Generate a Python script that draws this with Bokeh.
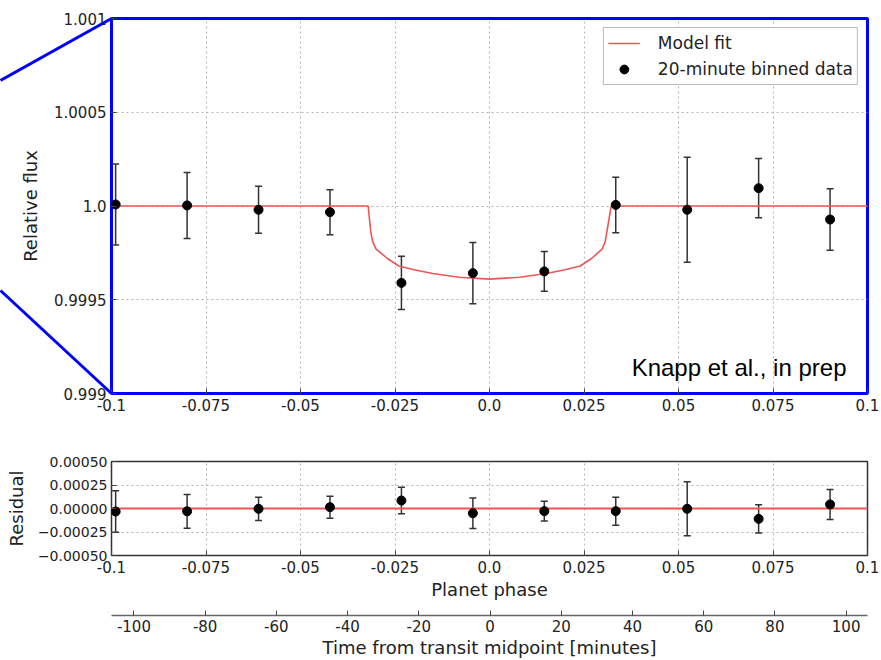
from bokeh.plotting import figure
from bokeh.models import (ColumnDataSource, Whisker, TeeHead, FixedTicker,
                          Range1d, Legend, LegendItem, Label)
from bokeh.layouts import column
from bokeh.embed import file_html
from bokeh.resources import INLINE

# ---------------- data ----------------
phase = [-0.0989, -0.0800, -0.0611, -0.0422, -0.0233, -0.0044, 0.0145, 0.0334, 0.0523, 0.0712, 0.0901]
flux = [1.000008, 1.000003, 0.999980, 0.999967, 0.999590, 0.999642, 0.999651, 1.000006, 0.999980, 1.000095, 0.999928]
flux_err = [0.000216, 0.000176, 0.000125, 0.000120, 0.000142, 0.000163, 0.000106, 0.000148, 0.000280, 0.000158, 0.000164]
resid = [-0.000032, -0.000030, -0.000003, 0.000014, 0.000085, -0.000050, -0.000028, -0.000028, -0.000003, -0.000110, 0.000043]
resid_err = [0.000220, 0.000180, 0.000124, 0.000117, 0.000142, 0.000162, 0.000106, 0.000149, 0.000287, 0.000151, 0.000160]

model_phase = [-0.1, -0.0321, -0.0314, -0.0309, -0.0300, -0.027, -0.024, -0.020, -0.015, -0.008, 0.0,
               0.008, 0.015, 0.020, 0.024, 0.027, 0.0298, 0.0306, 0.0312, 0.0322, 0.1]
model_flux = [1.0, 1.0, 0.99986, 0.99981, 0.99977, 0.99972, 0.99968, 0.99966, 0.99964, 0.99962, 0.99961,
              0.99962, 0.99964, 0.99966, 0.99968, 0.99972, 0.99977, 0.99981, 0.99988, 1.0, 1.0]
resid_model_phase = [-0.1, 0.1]
resid_model = [0.0, 0.0]

phase_ticks = [-0.1, -0.075, -0.05, -0.025, 0.0, 0.025, 0.05, 0.075, 0.1]
phase_tick_labels = ["-0.1", "-0.075", "-0.05", "-0.025", "0.0", "0.025", "0.05", "0.075", "0.1"]
flux_ticks = [0.999, 0.9995, 1.0, 1.0005, 1.001]
flux_tick_labels = ["0.999", "0.9995", "1.0", "1.0005", "1.001"]
resid_ticks = [-0.0005, -0.00025, 0.0, 0.00025, 0.0005]
resid_tick_labels = ["\u22120.00050", "\u22120.00025", "0.00000", "0.00025", "0.00050"]
minute_ticks = [-100, -80, -60, -40, -20, 0, 20, 40, 60, 80, 100]
minute_tick_labels = ["-100", "-80", "-60", "-40", "-20", "0", "20", "40", "60", "80", "100"]

phase_range = (-0.1, 0.1)
flux_range = (0.999, 1.001)
resid_range = (-0.0005, 0.0005)
minute_range = (-106.3, 106.0)

# call-out (zoom) lines: phase / flux where they leave the left edge of the canvas
callout_x = [-0.129365, -0.129365]
callout_y = [1.0006693, 0.9995493]

# ---------------- style ----------------
FONT = "DejaVu Sans"
TICK_PX = "15px"
LABEL_PX = "18px"
TXT = "#222222"
TICKC = "#444444"
GRIDC = "#b4b4b4"
RED = "#ee5555"
BLUE = "#0000ff"
W = 881


def style_axis(ax, ticks, labels, size=TICK_PX):
    ax.ticker = FixedTicker(ticks=ticks)
    ax.major_label_overrides = {t: l for t, l in zip(ticks, labels)}
    ax.major_tick_in = 5
    ax.major_tick_out = 0
    ax.minor_tick_line_color = None
    ax.major_tick_line_color = TICKC
    ax.major_tick_line_width = 1
    ax.axis_line_color = None
    ax.major_label_text_font = FONT
    ax.major_label_text_font_size = size
    ax.major_label_text_color = TXT
    ax.axis_label_text_font = FONT
    ax.axis_label_text_font_size = LABEL_PX
    ax.axis_label_text_font_style = "normal"
    ax.axis_label_text_color = TXT


def style_grid(p):
    for g in (p.xgrid[0], p.ygrid[0]):
        g.grid_line_color = GRIDC
        g.grid_line_dash = "2 3"
        g.grid_line_width = 1


# ---------------- top panel ----------------
p1 = figure(width=W, height=423, x_range=Range1d(*phase_range), y_range=Range1d(*flux_range),
            output_backend="svg", toolbar_location=None,
            min_border_left=111, min_border_right=14, min_border_top=18, min_border_bottom=30)
p1.outline_line_color = BLUE
p1.outline_line_width = 3
p1.outline_line_alpha = 1.0
style_axis(p1.xaxis[0], phase_ticks, phase_tick_labels)
p1.xaxis[0].major_label_standoff = 5
style_axis(p1.yaxis[0], flux_ticks, flux_tick_labels)
p1.yaxis[0].axis_label = "Relative flux"
p1.yaxis[0].major_label_standoff = 5
p1.yaxis[0].axis_label_standoff = 10
style_grid(p1)

src1 = ColumnDataSource(dict(x=phase, y=flux,
                             lo=[f - e for f, e in zip(flux, flux_err)],
                             hi=[f + e for f, e in zip(flux, flux_err)]))
model_r = p1.line(model_phase, model_flux, line_color=RED, line_width=1.6)
p1.add_layout(Whisker(source=src1, base="x", upper="hi", lower="lo", line_color="#333333", line_width=1.5,
                      upper_head=TeeHead(size=7, line_color="#333333", line_width=1.5),
                      lower_head=TeeHead(size=7, line_color="#333333", line_width=1.5)))
dots_r = p1.scatter("x", "y", source=src1, size=9, fill_color="black", line_color="black")
bar_proxy = p1.scatter(x=[], y=[], marker="line", size=9, line_color="#333333", line_width=1.5)

legend = Legend(items=[LegendItem(label="Model fit", renderers=[model_r]),
                       LegendItem(label="20-minute binned data", renderers=[bar_proxy, dots_r])],
                location="top_right", margin=9, padding=4, spacing=4,
                glyph_width=32, glyph_height=22, label_height=22, label_standoff=18,
                label_text_font=FONT, label_text_font_size="17px", label_text_color=TXT,
                border_line_color="#777777", border_line_width=1.5, background_fill_color="white",
                background_fill_alpha=1.0)
p1.add_layout(legend)

p1.add_layout(Label(x=0.09444, y=0.999140, text="Knapp et al., in prep", text_align="right",
                    text_baseline="alphabetic", text_font="Liberation Sans", text_font_size="24px",
                    text_color="black"))

# zoom call-out lines (drawn on the overlay level so they can leave the frame)
for cx, cy, fy in zip(callout_x, callout_y, (flux_range[1], flux_range[0])):
    p1.line([cx, phase_range[0]], [cy, fy], line_color=BLUE, line_width=3, level="overlay")

# ---------------- residual panel ----------------
p2 = figure(width=W, height=180, x_range=Range1d(*phase_range), y_range=Range1d(*resid_range),
            output_backend="svg", toolbar_location=None,
            min_border_left=111, min_border_right=14, min_border_top=38, min_border_bottom=48)
p2.outline_line_color = "#333333"
p2.outline_line_width = 1.5
p2.outline_line_alpha = 1.0
style_axis(p2.xaxis[0], phase_ticks, phase_tick_labels)
p2.xaxis[0].axis_label = "Planet phase"
p2.xaxis[0].major_label_standoff = 5
p2.xaxis[0].axis_label_standoff = 3
style_axis(p2.yaxis[0], resid_ticks, resid_tick_labels, size="14px")
p2.yaxis[0].axis_label = "Residual"
p2.yaxis[0].major_label_standoff = 4
p2.yaxis[0].axis_label_standoff = 8
style_grid(p2)

src2 = ColumnDataSource(dict(x=phase, y=resid,
                             lo=[r - e for r, e in zip(resid, resid_err)],
                             hi=[r + e for r, e in zip(resid, resid_err)]))
p2.line(resid_model_phase, resid_model, line_color=RED, line_width=2)
p2.add_layout(Whisker(source=src2, base="x", upper="hi", lower="lo", line_color="#333333", line_width=1.5,
                      upper_head=TeeHead(size=7, line_color="#333333", line_width=1.5),
                      lower_head=TeeHead(size=7, line_color="#333333", line_width=1.5)))
p2.scatter("x", "y", source=src2, size=9, fill_color="black", line_color="black")

# ---------------- time axis ----------------
p3 = figure(width=W, height=57, x_range=Range1d(*minute_range), y_range=Range1d(0, 1),
            output_backend="svg", toolbar_location=None,
            min_border_left=111, min_border_right=14, min_border_top=10, min_border_bottom=45)
p3.outline_line_color = None
p3.yaxis.visible = False
p3.xgrid.visible = False
p3.ygrid.visible = False
style_axis(p3.xaxis[0], minute_ticks, minute_tick_labels)
p3.xaxis[0].axis_line_color = "#666666"
p3.xaxis[0].axis_line_width = 1.5
p3.xaxis[0].axis_label = "Time from transit midpoint [minutes]"
p3.xaxis[0].major_label_standoff = 4
p3.xaxis[0].axis_label_standoff = 2

layout = column(p1, p2, p3, spacing=0)
open("out.html", "w").write(file_html(layout, INLINE))
